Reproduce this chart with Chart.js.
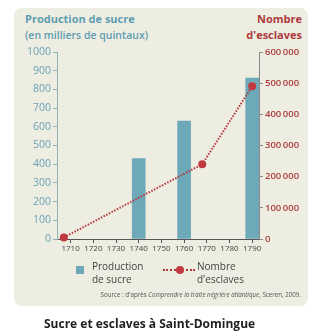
<!DOCTYPE html>
<html>
<head>
<meta charset="utf-8">
<script src="https://cdn.jsdelivr.net/npm/chart.js@4"></script>
<style>
	body { margin: 0; background: #fff; font-family: "Open Sans", sans-serif; }
	#wrap { position: relative; width: 314px; height: 336px; overflow: hidden; }
	#panel { position: absolute; left: 14px; top: 8px; width: 294px; height: 298px; background: #eeede2; border-radius: 8px; }
	#box { position: absolute; left: 0; top: 0; width: 314px; height: 260px; }
	.t { position: absolute; white-space: nowrap; }
	.teal { color: #5d9db1; }
	.red { color: #ad3a3c; }
</style>
</head>
<body>
<div id="wrap">
	<div id="panel"></div>
	<div class="t teal" style="left:25px;top:11px;font-size:11px;font-weight:700;line-height:16px;">Production de sucre<br><span style="font-weight:600;font-size:10.5px;">(en milliers de quintaux)</span></div>
	<div class="t red" style="right:12px;top:11px;font-size:11px;font-weight:700;line-height:16px;text-align:right;">Nombre<br>d'esclaves</div>
	<div id="box"><canvas id="chart"></canvas></div>
	<div class="t" style="left:76px;top:266px;width:8px;height:8px;background:#6ea9b9;"></div>
	<div class="t" style="left:92px;top:260px;font-size:10px;line-height:13px;color:#444;">Production<br>de sucre</div>
	<div class="t" style="left:163px;top:269px;width:32px;border-top:2px dotted #b5363c;"></div>
	<div class="t" style="left:176px;top:266px;width:8px;height:8px;border-radius:50%;background:#c0393f;"></div>
	<div class="t" style="left:197px;top:260px;font-size:10px;line-height:13px;color:#444;">Nombre<br>d'esclaves</div>
	<div class="t" style="right:13px;top:290px;font-size:6.2px;color:#555;">Source : d'après <i>Comprendre la traite négrière atlantique</i>, Sceren, 2009.</div>
	<div class="t" style="left:44px;top:315px;font-size:12px;font-weight:700;color:#222;">Sucre et esclaves à Saint-Domingue</div>
</div>
<script>
// années de l'axe horizontal
var years = [1710, 1720, 1730, 1740, 1750, 1760, 1770, 1780, 1790];

// production de sucre (milliers de quintaux)
var sugarYears = [1740, 1760, 1790];
var sugarValues = [430, 630, 860];

// nombre d'esclaves
var slaveYears = [1707, 1768, 1790];
var slaveValues = [5000, 240000, 490000];

var leftTicks = [0, 100, 200, 300, 400, 500, 600, 700, 800, 900, 1000];
var rightTicks = [0, 100000, 200000, 300000, 400000, 500000, 600000];

function toPoints(xs, ys) {
	return xs.map(function(x, i) { return { x: x, y: ys[i] }; });
}

function fmt(v) {
	return v === 0 ? '0' : String(v).replace(/\B(?=(\d{3})+(?!\d))/g, '\u2009');
}

var ctx = document.getElementById('chart');
var chart = new Chart(ctx, {
	data: {
		datasets: [{
			type: 'line',
			label: "Nombre d'esclaves",
			data: toPoints(slaveYears, slaveValues),
			yAxisID: 'yR',
			borderColor: '#b5363c',
			borderWidth: 2,
			borderDash: [1.5, 1.5],
			pointRadius: 4,
			pointBackgroundColor: '#c0393f',
			pointBorderWidth: 0,
			order: 0,
			clip: false
		},
		{
			type: 'bar',
			label: 'Production de sucre',
			data: toPoints(sugarYears, sugarValues),
			yAxisID: 'yL',
			backgroundColor: '#6ea9b9',
			barThickness: 13,
			order: 1
		}]
	},
	options: {
		responsive: true,
		maintainAspectRatio: false,
		animation: false,
		layout: { padding: { top: 52, left: 0, right: 0, bottom: 0 } },
		plugins: {
			legend: { display: false },
			tooltip: { enabled: false }
		},
		scales: {
			x: {
				type: 'linear',
				offset: false,
				min: 1704,
				max: 1793,
				afterBuildTicks: function(scale) {
					scale.ticks = years.map(function(v) { return { value: v }; });
				},
				afterFit: function(scale) { scale.height = 21; },
				grid: { drawOnChartArea: false, drawTicks: true, tickLength: 4, color: '#555', offset: false },
				border: { color: '#555', width: 1 },
				ticks: {
					padding: 1,
					maxRotation: 0,
					minRotation: 0,
					autoSkip: false,
					color: '#444',
					font: { family: 'Open Sans', size: 8 },
					callback: function(v) { return String(v); }
				}
			},
			yL: {
				position: 'left',
				min: 0,
				max: 1000,
				afterBuildTicks: function(scale) {
					scale.ticks = leftTicks.map(function(v) { return { value: v }; });
				},
				afterFit: function(scale) { scale.width = 57; },
				grid: { drawOnChartArea: false, drawTicks: true, tickLength: 4, color: '#8fb2bd' },
				border: { color: '#8fb2bd', width: 1 },
				ticks: {
					padding: 2,
					color: '#6aa3b5',
					font: { family: 'Open Sans', size: 10.5 },
					callback: function(v) { return String(v); }
				}
			},
			yR: {
				position: 'right',
				min: 0,
				max: 600000,
				afterBuildTicks: function(scale) {
					scale.ticks = rightTicks.map(function(v) { return { value: v }; });
				},
				afterFit: function(scale) { scale.width = 55; },
				grid: { drawOnChartArea: false, drawTicks: true, tickLength: 4, color: '#8a8a8a' },
				border: { color: '#8a8a8a', width: 1 },
				ticks: {
					padding: 2,
					color: '#ad3a3c',
					font: { family: 'Open Sans', size: 9.5, weight: '600' },
					callback: function(v) { return fmt(v); }
				}
			}
		}
	}
});
</script>
</body>
</html>
